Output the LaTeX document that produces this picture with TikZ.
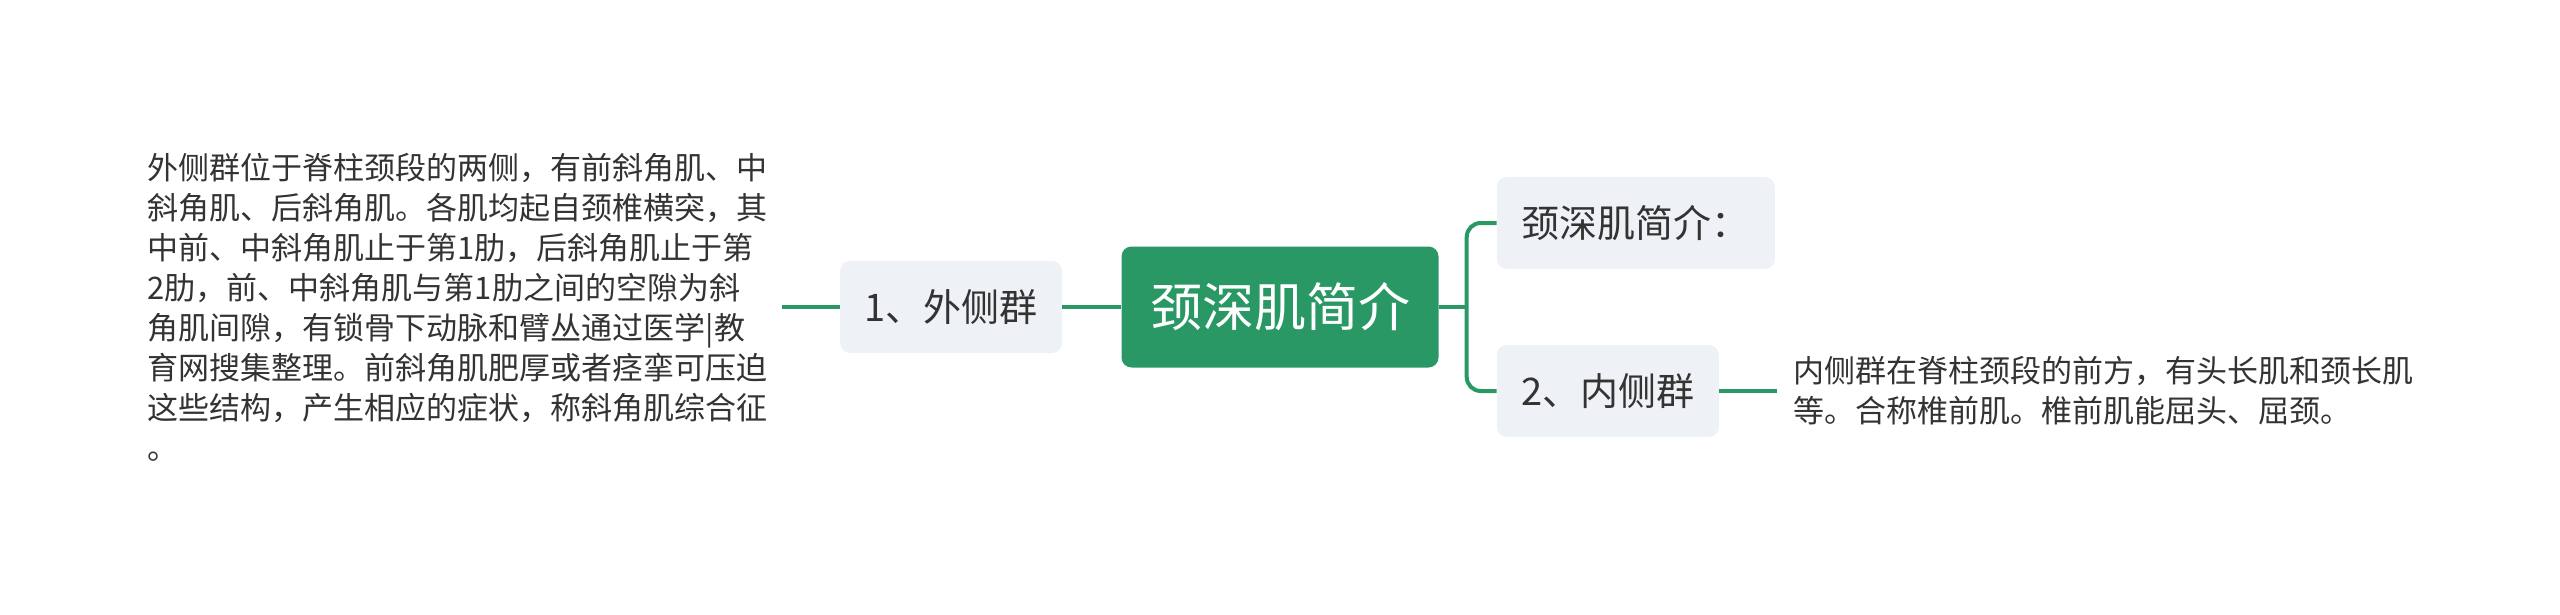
\documentclass[tikz,border=0pt]{standalone}
\usepackage{fontspec}
\setmainfont{Noto Sans CJK SC}
\usetikzlibrary{positioning}

\definecolor{rootgreen}{RGB}{42,152,101}
\definecolor{boxgray}{RGB}{238,241,245}
\definecolor{textgray}{RGB}{51,51,51}

\begin{document}
\begin{tikzpicture}[
    x=1pt, y=-1pt,
    rootbox/.style={
        rectangle,
        fill=rootgreen,
        rounded corners=10pt,
        minimum width=317pt,
        minimum height=121pt,
        text=white,
        font=\fontsize{52pt}{60pt}\selectfont
    },
    topic/.style={
        rectangle,
        fill=boxgray,
        rounded corners=10pt,
        minimum height=92pt,
        text=textgray,
        font=\fontsize{38pt}{46pt}\selectfont
    },
    note/.style={
        align=left,
        inner ysep=0pt,
        text=textgray,
        font=\fontsize{31pt}{40pt}\selectfont
    },
    link/.style={draw=rootgreen, line width=4pt}
]

\useasboundingbox (0,0) rectangle (2560,615);

\node[rootbox] (root) at (1280,307) {颈深肌简介};
\node[topic, minimum width=222pt, left=59pt of root] (outer) {1、外侧群};
\node[note, inner xsep=14pt, anchor=east] (outertext) at ([xshift=-58pt]outer.west)
    {外侧群位于脊柱颈段的两侧，有前斜角肌、中\\
     斜角肌、后斜角肌。各肌均起自颈椎横突，其\\
     中前、中斜角肌止于第1肋，后斜角肌止于第\\
     2肋，前、中斜角肌与第1肋之间的空隙为斜\\
     角肌间隙，有锁骨下动脉和臂丛通过医学|教\\
     育网搜集整理。前斜角肌肥厚或者痉挛可压迫\\
     这些结构，产生相应的症状，称斜角肌综合征\\
     。};
\node[topic, minimum width=278pt, anchor=west] (intro) at ([xshift=58pt, yshift=84pt]root.east) {颈深肌简介：};
\node[topic, minimum width=222pt, anchor=west] (inner) at ([xshift=58pt, yshift=-84pt]root.east) {2、内侧群};
\node[note, inner xsep=16pt, anchor=west] (innertext) at ([xshift=58pt]inner.east)
    {内侧群在脊柱颈段的前方，有头长肌和颈长肌\\
     等。合称椎前肌。椎前肌能屈头、屈颈。};

\coordinate (fork) at ([xshift=28pt]root.east);

\draw[link] (root.west) -- (outer.east);
\draw[link] (outer.west) -- (outertext.east);
\draw[link] (root.east) -- (fork);
\draw[link, rounded corners=14pt] (fork) |- (intro.west);
\draw[link, rounded corners=14pt] (fork) |- (inner.west);
\draw[link] (inner.east) -- (innertext.west);

\end{tikzpicture}
\end{document}
